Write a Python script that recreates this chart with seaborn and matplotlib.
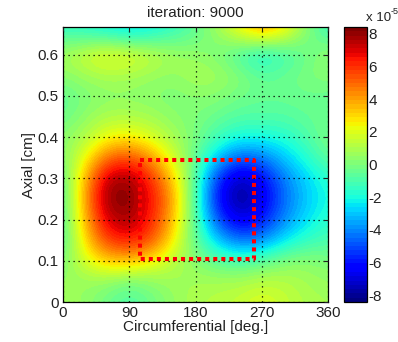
import numpy as np
import pandas as pd
import matplotlib
matplotlib.use("Agg")
import matplotlib.pyplot as plt
import seaborn as sns

# ---- data (values in units of 1e-5) ----
x_deg = [0, 30, 60, 90, 120, 150, 180, 210, 240, 270, 300, 330, 360]
y_cm = [0.00, 0.05, 0.10, 0.15, 0.20, 0.25, 0.30, 0.35, 0.40, 0.45, 0.50, 0.55, 0.60, 0.65, 0.70]
row_000 = [0.8, 0.5, -0.3, -1.0, -0.3, 0.5, 1.0, 1.2, 1.5, 2.0, 1.5, 1.0, 0.8]
row_005 = [0.5, 0.6, 0.4, -0.2, 0.3, 0.7, 0.8, 0.9, 0.9, 1.3, 1.2, 0.8, 0.5]
row_010 = [0.0, 1.8, 3.3, 3.5, 2.6, 1.2, 0.3, -0.6, -1.0, -0.6, 0.1, 0.4, 0.0]
row_015 = [-1.0, 3.0, 5.8, 6.5, 5.5, 2.6, -0.5, -3.0, -4.5, -4.0, -2.5, -1.5, -1.0]
row_020 = [-1.0, 3.6, 7.3, 7.8, 6.3, 3.5, -0.8, -5.0, -7.0, -6.0, -4.0, -2.6, -1.6]
row_025 = [-1.0, 4.0, 8.2, 8.3, 6.6, 4.0, -1.0, -6.2, -8.3, -6.9, -4.5, -3.0, -2.0]
row_030 = [-0.7, 3.6, 7.6, 7.9, 6.1, 3.2, -0.8, -5.5, -7.6, -6.4, -4.2, -2.8, -1.6]
row_035 = [0.0, 2.3, 5.0, 5.7, 4.2, 1.8, -0.5, -3.0, -4.8, -4.3, -3.0, -1.8, -0.5]
row_040 = [0.3, 1.0, 2.3, 2.6, 1.8, 0.8, 0.0, -1.2, -2.0, -2.0, -1.8, -1.0, 0.0]
row_045 = [-0.4, 0.4, 1.0, 1.0, 0.8, 0.3, 0.0, -0.4, -0.8, -0.8, -0.8, -0.5, -0.3]
row_050 = [-0.6, 0.0, 0.3, 0.3, 0.2, 0.0, 0.3, 0.2, -0.2, -0.4, -0.4, -0.3, -0.5]
row_055 = [0.3, 0.7, 1.0, 0.9, 0.6, 0.4, 0.9, 0.8, 0.2, -0.6, -0.4, 0.0, 0.3]
row_060 = [0.8, 1.7, 2.4, 2.1, 1.5, 0.8, 0.5, 0.0, -1.1, -2.2, -1.3, -0.4, 0.5]
row_065 = [-1.0, -1.2, -1.5, -2.0, -1.7, -1.1, -0.5, 0.5, 1.8, 3.0, 2.0, 0.2, -1.0]
row_070 = [-2.0, -2.2, -2.6, -3.0, -2.6, -1.8, -0.6, 1.0, 3.0, 5.0, 3.5, 0.5, -2.0]
color_limits = [-8.4, 8.4]
cbar_ticks = [-8, -6, -4, -2, 0, 2, 4, 6, 8]
x_ticks = [0, 90, 180, 270, 360]
y_ticks = [0, 0.1, 0.2, 0.3, 0.4, 0.5, 0.6]
rect_x = [105, 260, 260, 105, 105]
rect_y = [0.345, 0.345, 0.105, 0.105, 0.345]
title_text = "iteration: 9000"

grid = np.array([row_000, row_005, row_010, row_015, row_020, row_025, row_030,
                 row_035, row_040, row_045, row_050, row_055, row_060, row_065, row_070])

sns.set_style("white")
plt.rcParams['font.family'] = ['Liberation Sans', 'DejaVu Sans']
plt.rcParams['font.size'] = 11

fig = plt.figure(figsize=(3.98, 3.42), dpi=100)
ax = fig.add_axes([63/398, 40/342, 265/398, 275/342])
cax = fig.add_axes([344/398, 40/342, 23/398, 275/342])

dx = x_deg[1] - x_deg[0]
dy = y_cm[1] - y_cm[0]
cmap = plt.get_cmap('jet', 64)
im = ax.imshow(grid, origin='lower', aspect='auto', cmap=cmap,
               vmin=color_limits[0], vmax=color_limits[1],
               interpolation='bicubic',
               extent=[x_deg[0] - dx/2, x_deg[-1] + dx/2, y_cm[0] - dy/2, y_cm[-1] + dy/2])
ax.set_xlim(0, 360)
ax.set_ylim(0, 0.667)

rect_df = pd.DataFrame({"x": rect_x, "y": rect_y})
sns.lineplot(data=rect_df, x="x", y="y", sort=False, estimator=None, ax=ax,
             color='#ff0000', linewidth=2.9, linestyle=(0, (1, 1)),
             dash_capstyle='butt')

ax.set_xticks(x_ticks)
ax.set_xticklabels([str(v) for v in x_ticks])
ax.set_yticks(y_ticks)
ax.set_yticklabels(['0'] + [f"{v:.1f}" for v in y_ticks[1:]])
ax.grid(True, color='black', linestyle=(0, (1, 3)), linewidth=0.9)
ax.set_axisbelow(False)
ax.tick_params(direction='in', top=True, right=True, length=3, width=0.8,
               pad=3, labelsize=11, colors='#222222')
for s in ax.spines.values():
    s.set_color('black')
    s.set_linewidth(0.9)
    s.set_visible(True)
ax.set_xlabel("Circumferential [deg.]", fontsize=11, labelpad=0, color='#222222')
ax.set_ylabel("Axial [cm]", fontsize=11, labelpad=1, color='#222222')
ax.set_title(title_text, fontsize=11, pad=7, color='#222222')

cb = fig.colorbar(im, cax=cax, ticks=cbar_ticks)
cb.ax.tick_params(direction='in', length=3, width=0.8, pad=1, labelsize=11,
                  left=True, right=True, colors='#222222')
cb.ax.set_yticklabels([str(t) for t in cbar_ticks])
cb.outline.set_linewidth(0.9)
cb.outline.set_edgecolor('black')

fig.text(366/398, 1 - 21/342, "x 10", fontsize=9.5, ha='left', va='baseline', color='#222222')
fig.text(391/398, 1 - 14/342, "-5", fontsize=6.5, ha='left', va='baseline', color='#222222')

fig.savefig("out.png", dpi=100, facecolor='white')
